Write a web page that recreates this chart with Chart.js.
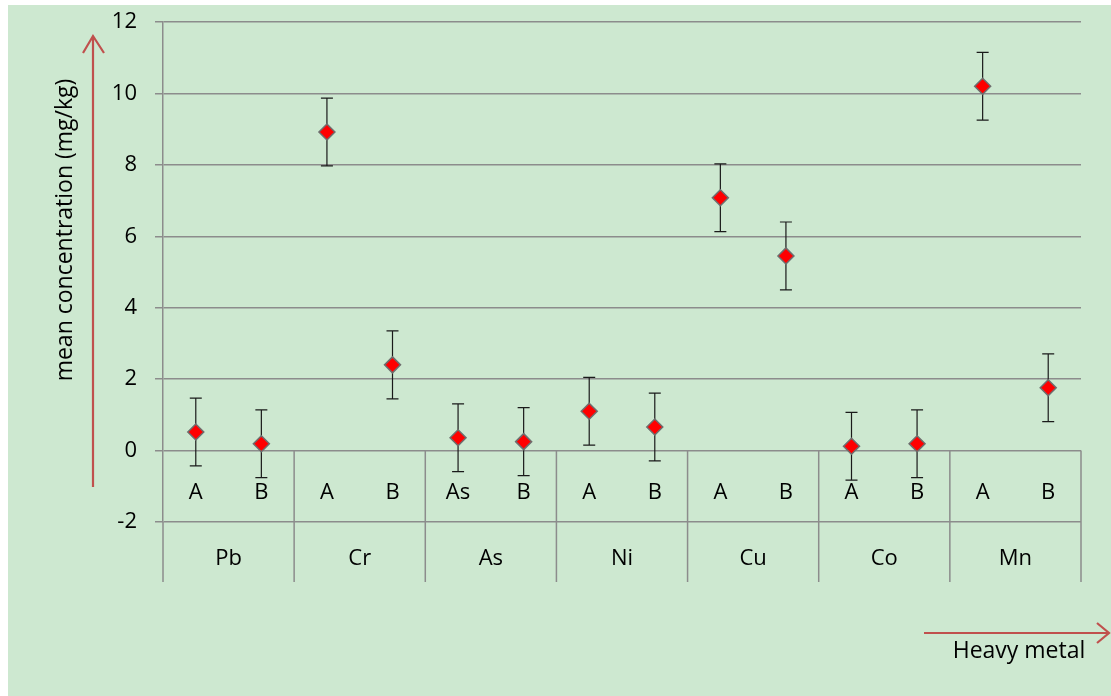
<!DOCTYPE html>
<html>
<head>
<meta charset="utf-8">
<script src="https://cdn.jsdelivr.net/npm/chart.js@4.4.1/dist/chart.umd.min.js"></script>
<style>
  html, body { margin: 0; padding: 0; background: #ffffff; }
  #wrap { position: relative; width: 1111px; height: 696px; }
</style>
</head>
<body>
<div id="wrap"><canvas id="myChart" width="1111" height="696"></canvas></div>
<script>
// dati
const groups = ['Pb', 'Cr', 'As', 'Ni', 'Cu', 'Co', 'Mn'];
const subLabels = ['A', 'B', 'A', 'B', 'As', 'B', 'A', 'B', 'A', 'B', 'A', 'B', 'A', 'B'];
const means = [0.52, 0.19, 8.92, 2.40, 0.36, 0.25, 1.10, 0.66, 7.08, 5.45, 0.12, 0.19, 10.20, 1.76];
const errors = [0.95, 0.95, 0.95, 0.95, 0.95, 0.95, 0.95, 0.95, 0.95, 0.95, 0.95, 0.95, 0.95, 0.95];
const yTicks = [-2, 0, 2, 4, 6, 8, 10, 12];

const FONT = '"Open Sans", "Noto Sans", sans-serif';
const GRID = '#8c8c8c';
const ARROW = '#c0504d';

// sfondo verde, barre d'errore, tabella delle categorie, frecce
const decorPlugin = {
    id: 'decor',
    beforeDraw(chart) {
        const c = chart.ctx;
        c.save();
        c.fillStyle = '#cde8d0';
        c.fillRect(8, 5, chart.width - 8, chart.height - 5);
        c.restore();
    },
    beforeDatasetsDraw(chart) {
        const c = chart.ctx;
        const x = chart.scales.x, y = chart.scales.y;
        c.save();
        c.strokeStyle = '#1a1a1a';
        c.lineWidth = 1.2;
        means.forEach((m, i) => {
            const px = x.getPixelForValue(i);
            const top = y.getPixelForValue(m + errors[i]);
            const bot = y.getPixelForValue(m - errors[i]);
            c.beginPath();
            c.moveTo(px, top); c.lineTo(px, bot);
            c.moveTo(px - 6, top); c.lineTo(px + 6, top);
            c.moveTo(px - 6, bot); c.lineTo(px + 6, bot);
            c.stroke();
        });
        c.restore();
    },
    afterDraw(chart) {
        const c = chart.ctx;
        const x = chart.scales.x, y = chart.scales.y;
        const area = chart.chartArea;
        const y0 = y.getPixelForValue(0);
        const yRow = y.getPixelForValue(-2);
        const yEnd = yRow + 60;
        const step = (area.right - area.left) / subLabels.length;

        c.save();
        // linee verticali della tabella
        c.strokeStyle = GRID;
        c.lineWidth = 1.5;
        c.beginPath();
        c.moveTo(area.left, area.bottom); c.lineTo(area.left, yEnd);
        for (let g = 1; g <= groups.length; g++) {
            const bx = area.left + g * 2 * step;
            c.moveTo(bx, y0); c.lineTo(bx, yEnd);
        }
        c.stroke();

        // etichette
        c.fillStyle = '#000000';
        c.font = '22px ' + FONT;
        c.textAlign = 'center';
        c.textBaseline = 'middle';
        subLabels.forEach((s, i) => {
            c.fillText(s, x.getPixelForValue(i), (y0 + yRow) / 2 + 6);
        });
        groups.forEach((g, k) => {
            const cx = (x.getPixelForValue(2 * k) + x.getPixelForValue(2 * k + 1)) / 2;
            c.fillText(g, cx, yRow + 37);
        });

        // titoli degli assi
        c.font = '23px ' + FONT;
        c.fillText('Heavy metal', 1019, 651);
        c.save();
        c.translate(65, 230);
        c.rotate(-Math.PI / 2);
        c.fillText('mean concentration (mg/kg)', 0, 0);
        c.restore();

        // frecce rosse
        c.strokeStyle = ARROW;
        c.lineWidth = 2.2;
        c.beginPath();
        c.moveTo(93, 487); c.lineTo(93, 36);
        c.moveTo(83, 53); c.lineTo(93, 36); c.lineTo(104, 53);
        c.moveTo(924, 633); c.lineTo(1109, 633);
        c.moveTo(1097, 623); c.lineTo(1109, 633); c.lineTo(1097, 643);
        c.stroke();
        c.restore();
    }
};

const ctx = document.getElementById('myChart').getContext('2d');
const myChart = new Chart(ctx, {
    type: 'line',
    data: {
        labels: subLabels,
        datasets: [{
            data: means,
            showLine: false,
            pointStyle: 'rectRot',
            pointRadius: 8,
            pointHoverRadius: 8,
            pointBackgroundColor: '#ff0000',
            pointBorderColor: '#6e6e6e',
            pointBorderWidth: 1.5
        }]
    },
    options: {
        responsive: false,
        animation: false,
        layout: {
            padding: { top: 22, right: 30, bottom: 174, left: 0 }
        },
        scales: {
            x: {
                type: 'category',
                offset: true,
                display: false
            },
            y: {
                min: -2,
                max: 12,
                afterBuildTicks(scale) {
                    scale.ticks = yTicks.map(v => ({ value: v }));
                },
                afterFit(scale) {
                    scale.width = 163;
                    scale.paddingTop = 0;
                    scale.paddingBottom = 0;
                },
                grid: {
                    color: GRID,
                    lineWidth: 1.5,
                    tickLength: 8
                },
                border: {
                    display: true,
                    color: GRID,
                    width: 1.5
                },
                ticks: {
                    color: '#000000',
                    padding: 18,
                    font: { family: FONT, size: 22 }
                }
            }
        },
        plugins: {
            legend: { display: false },
            tooltip: { enabled: false }
        }
    },
    plugins: [decorPlugin]
});
</script>
</body>
</html>
